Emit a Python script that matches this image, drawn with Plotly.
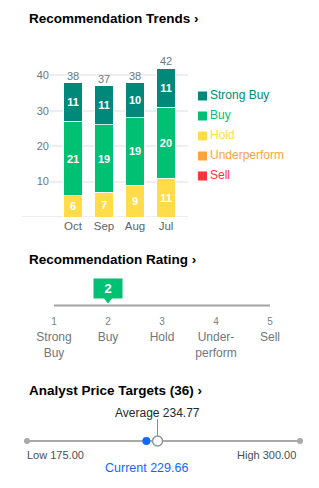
import plotly.graph_objects as go

W, H = 319, 488

# ---------- data ----------
months = ["Oct", "Sep", "Aug", "Jul"]
strong_buy = [11, 11, 10, 11]
buy = [21, 19, 19, 20]
hold = [6, 7, 9, 11]
underperform = [0, 0, 0, 0]
sell = [0, 0, 0, 0]
series_names = ["Strong Buy", "Buy", "Hold", "Underperform", "Sell"]
series_colors = ["#00897b", "#00c073", "#ffdc48", "#ffa33a", "#ff333a"]
y_ticks = [10, 20, 30, 40]

rating_value = 2
rating_nums = [1, 2, 3, 4, 5]
rating_labels = ["Strong<br>Buy", "Buy", "Hold", "Under-<br>perform", "Sell"]

price_low = 175.00
price_high = 300.00
price_avg = 234.77
price_current = 229.66
n_analysts = 36

FONT = "Arial"

def py(y):  # pixel y -> paper fraction
    return 1 - y / H

fig = go.Figure()

# ---------- stacked bars ----------
totals = [a + b + c + d + e for a, b, c, d, e in zip(strong_buy, buy, hold, underperform, sell)]
stack = [("Hold", hold, series_colors[2]), ("Buy", buy, series_colors[1]),
         ("Strong Buy", strong_buy, series_colors[0]),
         ("Underperform", underperform, series_colors[3]), ("Sell", sell, series_colors[4])]
for name, vals, col in stack:
    fig.add_trace(go.Bar(
        x=months, y=vals, name=name,
        marker=dict(color=col, line=dict(color="rgba(255,255,255,0.8)", width=1)),
        width=0.61, text=[str(v) if v else "" for v in vals], textposition="inside",
        insidetextanchor="middle", textangle=0,
        textfont=dict(color="white", size=11, family=FONT),
        texttemplate="<b>%{text}</b>",
        xaxis="x", yaxis="y", showlegend=False, hoverinfo="skip"))

fig.add_trace(go.Scatter(
    x=months, y=totals, mode="text", text=[str(t) for t in totals],
    textposition="top center", textfont=dict(color="#6e7780", size=11, family=FONT),
    xaxis="x", yaxis="y", showlegend=False, hoverinfo="skip", cliponaxis=False))

# ---------- manual legend ----------
leg_y = [96 + 20 * i for i in range(len(series_names))]
fig.add_trace(go.Scatter(
    x=[202.5] * len(series_names), y=leg_y, mode="markers",
    marker=dict(symbol="square", size=9, color=series_colors),
    xaxis="x2", yaxis="y2", showlegend=False, hoverinfo="skip", cliponaxis=False))
fig.add_trace(go.Scatter(
    x=[210] * len(series_names), y=leg_y, mode="text", text=series_names,
    textposition="middle right",
    textfont=dict(color=series_colors, size=12, family=FONT),
    xaxis="x2", yaxis="y2", showlegend=False, hoverinfo="skip", cliponaxis=False))

# ---------- recommendation rating ----------
fig.add_trace(go.Scatter(
    x=[rating_nums[0], rating_nums[-1]], y=[305.5, 305.5], mode="lines",
    line=dict(color="#a3a3a3", width=2), xaxis="x3", yaxis="y3",
    showlegend=False, hoverinfo="skip", cliponaxis=False))
fig.add_trace(go.Scatter(
    x=rating_nums, y=[322] * 5, mode="text", text=[str(n) for n in rating_nums],
    textposition="middle center", textfont=dict(color="#7b828a", size=10, family=FONT),
    xaxis="x3", yaxis="y3", showlegend=False, hoverinfo="skip", cliponaxis=False))
fig.add_trace(go.Scatter(
    x=rating_nums, y=[332] * 5, mode="text", text=rating_labels,
    textposition="bottom center", textfont=dict(color="#6e7780", size=12, family=FONT),
    xaxis="x3", yaxis="y3", showlegend=False, hoverinfo="skip", cliponaxis=False))
fig.add_trace(go.Scatter(
    x=[rating_value], y=[298.5], mode="markers",
    marker=dict(symbol="triangle-down", size=10, color="#00c073"),
    xaxis="x3", yaxis="y3", showlegend=False, hoverinfo="skip", cliponaxis=False))

# ---------- price targets ----------
fig.add_trace(go.Scatter(
    x=[price_low, price_high], y=[441, 441], mode="lines+markers",
    line=dict(color="#a9a9a9", width=2), marker=dict(size=6, color="#a9a9a9"),
    xaxis="x4", yaxis="y4", showlegend=False, hoverinfo="skip", cliponaxis=False))
fig.add_trace(go.Scatter(
    x=[price_avg, price_avg], y=[436, 419], mode="lines",
    line=dict(color="#828a93", width=1),
    xaxis="x4", yaxis="y4", showlegend=False, hoverinfo="skip", cliponaxis=False))
fig.add_trace(go.Scatter(
    x=[price_current], y=[441], mode="markers",
    marker=dict(size=8, color="#0f69ff"),
    xaxis="x4", yaxis="y4", showlegend=False, hoverinfo="skip", cliponaxis=False))
fig.add_trace(go.Scatter(
    x=[price_avg], y=[441], mode="markers",
    marker=dict(size=10, color="white", line=dict(color="#8d959d", width=1.5)),
    xaxis="x4", yaxis="y4", showlegend=False, hoverinfo="skip", cliponaxis=False))

annotations = [
    dict(text="<b>Recommendation Trends ›</b>", x=27 / W, y=py(19), xref="paper", yref="paper",
         xanchor="left", yanchor="middle", showarrow=False, font=dict(size=13.5, color="#000", family=FONT)),
    dict(text="<b>Recommendation Rating ›</b>", x=27 / W, y=py(259), xref="paper", yref="paper",
         xanchor="left", yanchor="middle", showarrow=False, font=dict(size=13.5, color="#000", family=FONT)),
    dict(text=f"<b>Analyst Price Targets ({n_analysts}) ›</b>", x=27 / W, y=py(390), xref="paper", yref="paper",
         xanchor="left", yanchor="middle", showarrow=False, font=dict(size=13.5, color="#000", family=FONT)),
    dict(text=f"<b>{rating_value}</b>", x=rating_value, y=288.5, xref="x3", yref="y3",
         xanchor="center", yanchor="middle", showarrow=False, width=26, height=17,
         bgcolor="#00c073", font=dict(size=13, color="white", family=FONT)),
    dict(text=f"Average {price_avg:.2f}", x=price_avg, y=413, xref="x4", yref="y4",
         xanchor="center", yanchor="middle", showarrow=False,
         font=dict(size=12, color="#232a31", family=FONT)),
    dict(text=f"Low {price_low:.2f}", x=price_low, y=455, xref="x4", yref="y4",
         xanchor="left", yanchor="middle", showarrow=False, xshift=-2,
         font=dict(size=11, color="#464e56", family=FONT)),
    dict(text=f"High {price_high:.2f}", x=price_high, y=455, xref="x4", yref="y4",
         xanchor="right", yanchor="middle", showarrow=False, xshift=-2,
         font=dict(size=11, color="#464e56", family=FONT)),
    dict(text=f"Current {price_current:.2f}", x=price_current, y=468, xref="x4", yref="y4",
         xanchor="center", yanchor="middle", showarrow=False,
         font=dict(size=12.5, color="#0f69ff", family=FONT)),
]

y_top_px, y_zero_px, px_per_unit = 50, 217, 3.545
x_left_px, x_right_px, cat_center0, cat_step = 50, 188, 73, 31

pix_y = dict(domain=[0, 1], range=[H, 0], visible=False, fixedrange=True)

fig.update_layout(
    width=W, height=H, margin=dict(l=0, r=0, t=0, b=0),
    paper_bgcolor="white", plot_bgcolor="rgba(0,0,0,0)",
    barmode="stack", showlegend=False,
    font=dict(family=FONT),
    xaxis=dict(domain=[x_left_px / W, x_right_px / W],
               range=[(x_left_px - cat_center0) / cat_step, (x_right_px - cat_center0) / cat_step],
               showgrid=False, zeroline=False, showline=False, ticks="",
               tickfont=dict(size=11.5, color="#5b636a"), fixedrange=True, anchor="y"),
    yaxis=dict(domain=[py(y_zero_px), py(y_top_px)],
               range=[0, (y_zero_px - y_top_px) / px_per_unit],
               tickvals=y_ticks, ticktext=[str(t) for t in y_ticks],
               showgrid=True, gridcolor="#eceef1", gridwidth=1.5, zeroline=False,
               ticks="", tickfont=dict(size=11, color="#6e7780"), fixedrange=True, anchor="x"),
    xaxis2=dict(domain=[0, 1], range=[0, W], visible=False, fixedrange=True, anchor="y2"),
    yaxis2=dict(**pix_y, anchor="x2"),
    xaxis3=dict(domain=[54 / W, 270 / W], range=[rating_nums[0], rating_nums[-1]],
                visible=False, fixedrange=True, anchor="y3"),
    yaxis3=dict(**pix_y, anchor="x3"),
    xaxis4=dict(domain=[27 / W, 300 / W], range=[price_low, price_high],
                visible=False, fixedrange=True, anchor="y4"),
    yaxis4=dict(**pix_y, anchor="x4"),
    shapes=[dict(type="line", xref="paper", yref="y", x0=22 / W, x1=x_right_px / W,
                 y0=0, y1=0, line=dict(color="#e6e8eb", width=1.5), layer="below")],
    annotations=annotations,
)

fig.write_html("out.html", config={"displayModeBar": False})
